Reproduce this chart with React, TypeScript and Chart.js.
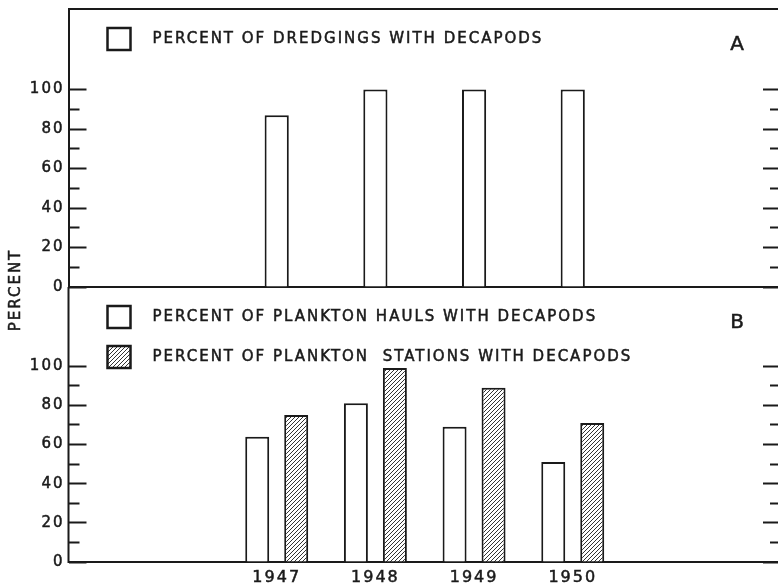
import React, { useEffect, useRef } from 'react';
import { Chart, registerables } from 'chart.js';

Chart.register(...registerables);

// ---- data ----
const years = [1947, 1948, 1949, 1950];
const dredgings = [87, 100, 100, 100];
const planktonHauls = [64, 81, 69, 51];
const planktonStations = [75, 99, 89, 71];
const yTickValues = [0, 10, 20, 30, 40, 50, 60, 70, 80, 90, 100];
const labelDredgings = 'PERCENT OF DREDGINGS WITH DECAPODS';
const labelHauls = 'PERCENT OF PLANKTON HAULS WITH DECAPODS';
const labelStations = 'PERCENT OF PLANKTON  STATIONS WITH DECAPODS';
const yTitle = 'PERCENT';
const panelLetters = ['A', 'B'];

const INK = '#1a1a1a';
const FONT = '"DejaVu Sans", sans-serif';
const X_MIN = 1944.89;
const X_MAX = 1952.08;
const TEXT_STROKE = 0.5;

function makeHatch(): CanvasPattern | string {
  const p = document.createElement('canvas');
  p.width = 4;
  p.height = 4;
  const g = p.getContext('2d');
  if (!g) return '#999';
  g.fillStyle = '#ffffff';
  g.fillRect(0, 0, 4, 4);
  g.strokeStyle = '#333';
  g.lineWidth = 1;
  g.beginPath();
  g.moveTo(0, 4); g.lineTo(4, 0);
  g.moveTo(-1, 1); g.lineTo(1, -1);
  g.moveTo(3, 5); g.lineTo(5, 3);
  g.stroke();
  return g.createPattern(p, 'repeat') || '#999';
}

function zeroPad(s: any) {
  s.paddingTop = 0;
  s.paddingBottom = 0;
  s.paddingLeft = 0;
  s.paddingRight = 0;
}

function drawText(ctx: CanvasRenderingContext2D, text: string, x: number, y: number) {
  ctx.lineWidth = TEXT_STROKE;
  ctx.strokeStyle = INK;
  ctx.strokeText(text, x, y);
  ctx.fillText(text, x, y);
}

function decorPlugin(letter: string, showTitle: boolean, drawLeftBorder: boolean) {
  return {
    id: 'decor' + letter,
    beforeDraw(chart: any) {
      chart.ctx.letterSpacing = '2px';
    },
    afterDraw(chart: any) {
      const { ctx, chartArea } = chart;
      ctx.save();
      ctx.letterSpacing = '2px';
      if (drawLeftBorder) {
        ctx.beginPath();
        ctx.strokeStyle = INK;
        ctx.lineWidth = 2;
        ctx.moveTo(chartArea.left, chartArea.top);
        ctx.lineTo(chartArea.left, chartArea.bottom + 1);
        ctx.stroke();
      }
      chart.data.datasets.forEach((ds: any, i: number) => {
        const bx = chartArea.left + 39;
        const by = chartArea.top + 19 + i * 40;
        ctx.fillStyle = ds.backgroundColor;
        ctx.fillRect(bx, by, 23, 22);
        ctx.lineWidth = 2.5;
        ctx.strokeStyle = INK;
        ctx.strokeRect(bx, by, 23, 22);
        ctx.fillStyle = INK;
        ctx.font = `15px ${FONT}`;
        ctx.textBaseline = 'middle';
        ctx.textAlign = 'left';
        drawText(ctx, ds.label, bx + 45, by + 11.5);
      });
      ctx.fillStyle = INK;
      ctx.font = `20px ${FONT}`;
      ctx.textAlign = 'center';
      ctx.textBaseline = 'middle';
      drawText(ctx, letter, chartArea.right - 40, chartArea.top + 36);
      if (showTitle) {
        ctx.translate(16, 290);
        ctx.rotate(-Math.PI / 2);
        ctx.font = `15px ${FONT}`;
        drawText(ctx, yTitle, 0, 0);
      }
      ctx.restore();
    },
  };
}

function yAxes(max: number, showBorder: boolean) {
  const minor = (c: any) => c.tick && c.tick.value % 20 !== 0;
  return {
    y: {
      type: 'linear',
      position: 'left',
      min: 0,
      max,
      afterBuildTicks: (s: any) => { s.ticks = yTickValues.map((v) => ({ value: v })); },
      afterFit: (s: any) => { s.width = 68.5; zeroPad(s); },
      grid: {
        drawOnChartArea: false,
        drawTicks: true,
        tickLength: -18,
        tickWidth: 2,
        tickColor: INK,
        tickBorderDash: (c: any) => (minor(c) ? [0, 7, 11, 100] : []),
      },
      border: { display: showBorder, color: INK, width: 2 },
      ticks: {
        padding: 22,
        color: INK,
        textStrokeColor: INK,
        textStrokeWidth: TEXT_STROKE,
        font: { size: 15, family: FONT },
        callback: (v: any) => (v % 20 === 0 ? String(v) : ''),
      },
    },
    yR: {
      type: 'linear',
      position: 'right',
      min: 0,
      max,
      afterBuildTicks: (s: any) => { s.ticks = yTickValues.map((v) => ({ value: v })); },
      afterFit: (s: any) => { s.width = 0; zeroPad(s); },
      grid: {
        drawOnChartArea: false,
        drawTicks: true,
        tickLength: -15,
        tickWidth: 2,
        tickColor: INK,
        tickBorderDash: (c: any) => (minor(c) ? [8, 100] : []),
      },
      border: { display: false },
      ticks: { display: false },
    },
  };
}

function xAxis(showLabels: boolean, position: string, height: number) {
  return {
    type: 'linear',
    position,
    offset: false,
    min: X_MIN,
    max: X_MAX,
    afterBuildTicks: (s: any) => { s.ticks = years.map((v) => ({ value: v })); },
    afterFit: (s: any) => { s.height = height; zeroPad(s); },
    grid: { display: false, drawTicks: false },
    border: { display: true, color: INK, width: 2 },
    ticks: {
      display: showLabels,
      autoSkip: false,
      maxRotation: 0,
      padding: 6,
      color: INK,
      textStrokeColor: INK,
      textStrokeWidth: TEXT_STROKE,
      font: { size: 16, family: FONT },
      callback: (v: any) => String(v),
    },
  };
}

export default function App() {
  const refA = useRef<HTMLCanvasElement>(null);
  const refB = useRef<HTMLCanvasElement>(null);

  useEffect(() => {
    if (!refA.current || !refB.current) return;
    const hatch = makeHatch();

    const chartA = new Chart(refA.current, {
      type: 'bar',
      data: {
        datasets: [
          {
            label: labelDredgings,
            data: years.map((yr, i) => ({ x: yr, y: dredgings[i] })),
            backgroundColor: '#ffffff',
            borderColor: INK,
            borderWidth: 2,
            categoryPercentage: 1,
            barPercentage: 0.245,
          },
        ],
      },
      options: {
        responsive: false,
        animation: false,
        layout: { padding: { top: 9, bottom: 296, left: 0, right: 0 } },
        plugins: { legend: { display: false }, tooltip: { enabled: false } },
        scales: {
          x: xAxis(false, 'bottom', 0),
          xTop: xAxis(false, 'top', 0),
          ...yAxes(140.8, true),
        },
      } as any,
      plugins: [decorPlugin(panelLetters[0], false, false)],
    } as any);

    const chartB = new Chart(refB.current, {
      type: 'bar',
      data: {
        datasets: [
          {
            label: labelHauls,
            data: years.map((yr, i) => ({ x: yr, y: planktonHauls[i] })),
            backgroundColor: '#ffffff',
            borderColor: INK,
            borderWidth: 2,
            categoryPercentage: 0.79,
            barPercentage: 0.615,
          },
          {
            label: labelStations,
            data: years.map((yr, i) => ({ x: yr, y: planktonStations[i] })),
            backgroundColor: hatch,
            borderColor: INK,
            borderWidth: 2,
            categoryPercentage: 0.79,
            barPercentage: 0.615,
          },
        ],
      },
      options: {
        responsive: false,
        animation: false,
        layout: { padding: { top: 287, bottom: 0, left: 0, right: 0 } },
        plugins: { legend: { display: false }, tooltip: { enabled: false } },
        scales: {
          x: xAxis(true, 'bottom', 21),
          ...yAxes(140.4, false),
        },
      } as any,
      plugins: [decorPlugin(panelLetters[1], true, true)],
    } as any);

    return () => {
      chartA.destroy();
      chartB.destroy();
    };
  }, []);

  const canvasStyle: React.CSSProperties = { position: 'absolute', left: 0, top: 0, display: 'block' };
  return (
    <div style={{ position: 'absolute', left: 0, top: 0, width: 778, height: 583, background: '#ffffff' }}>
      <canvas ref={refA} width={778} height={583} style={canvasStyle} />
      <canvas ref={refB} width={778} height={583} style={canvasStyle} />
    </div>
  );
}
